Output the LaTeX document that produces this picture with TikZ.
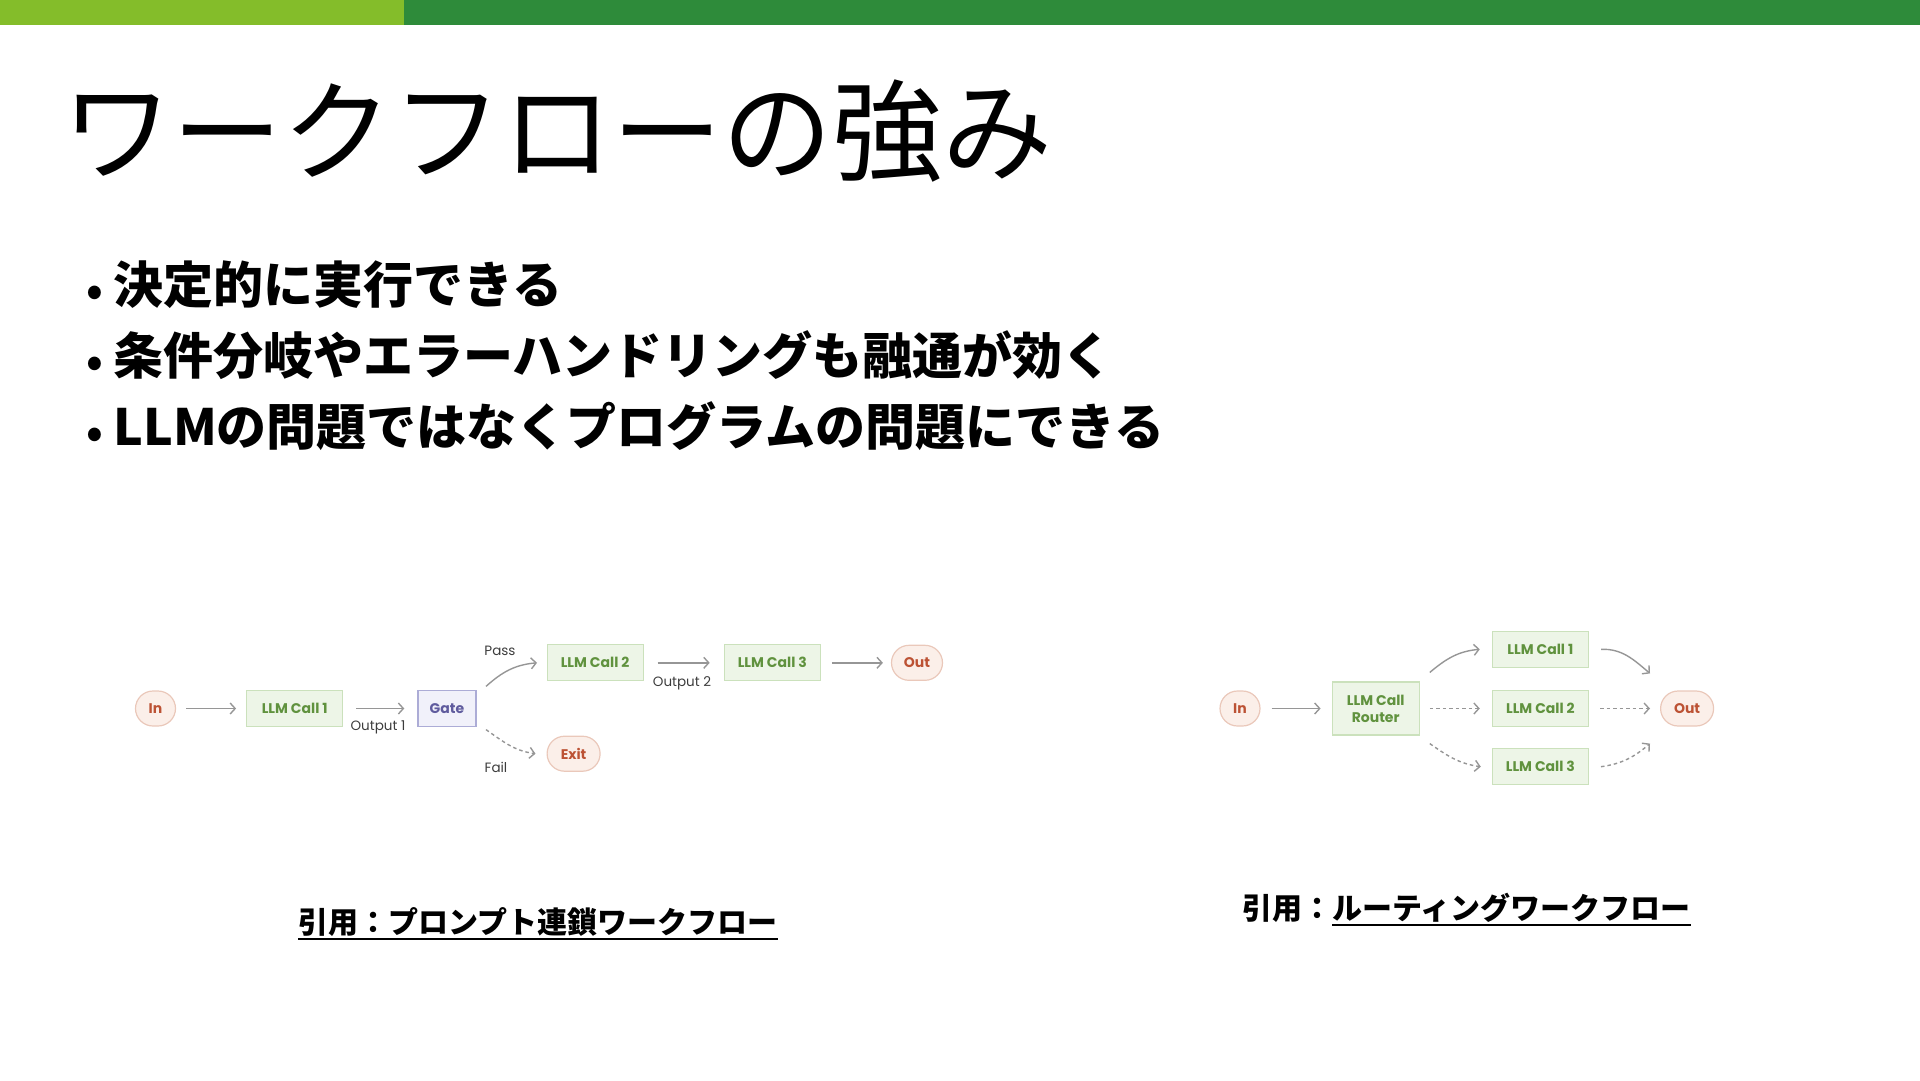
\documentclass[tikz,border=0pt]{standalone}
\usepackage{fontspec}
\setmainfont{Poppins}
\newfontfamily\jpfont{Noto Sans CJK JP}
\usepackage{tikz}
\usetikzlibrary{arrows.meta, positioning, calc}
\definecolor{barlime}{RGB}{132,189,42}
\definecolor{bargreen}{RGB}{46,139,58}
\definecolor{callgreen}{RGB}{96,146,62}
\definecolor{callfill}{RGB}{237,245,231}
\definecolor{callline}{RGB}{203,225,188}
\definecolor{termred}{RGB}{188,82,52}
\definecolor{termfill}{RGB}{251,239,233}
\definecolor{termline}{RGB}{234,200,186}
\definecolor{gateblue}{RGB}{96,92,158}
\definecolor{gatefill}{RGB}{241,241,250}
\definecolor{gateline}{RGB}{172,172,214}
\definecolor{flowgray}{RGB}{150,150,150}
\definecolor{labelink}{RGB}{60,60,60}
\tikzset{
  callbox/.style={
    draw=callline,
    line width=1.2pt,
    fill=callfill,
    align=center,
    minimum height=36pt,
    minimum width=96pt,
    inner sep=0pt,
    font=\fontsize{14}{17}\selectfont\bfseries,
    text=callgreen
  },
  termbox/.style={
    draw=termline,
    line width=1.2pt,
    fill=termfill,
    rounded corners=17.5pt,
    minimum height=35pt,
    minimum width=40pt,
    inner sep=0pt,
    font=\fontsize{14}{17}\selectfont\bfseries,
    text=termred
  },
  gatebox/.style={
    draw=gateline,
    line width=1.2pt,
    fill=gatefill,
    minimum height=36pt,
    minimum width=58pt,
    inner sep=0pt,
    font=\fontsize{14}{17}\selectfont\bfseries,
    text=gateblue
  },
  flow/.style={-{Straight Barb[length=5pt,width=11pt]}, line width=1.4pt, draw=flowgray,
    shorten <=10pt, shorten >=10pt},
  dashflow/.style={flow, dash pattern=on 3.5pt off 3pt},
  edgelabel/.style={font=\fontsize{13.5}{16}\selectfont, text=labelink, inner sep=0pt},
  titletext/.style={font=\jpfont\fontsize{110}{120}\selectfont, inner sep=0pt, anchor=base west},
  itemtext/.style={font=\jpfont\bfseries\fontsize{50}{60}\selectfont, inner sep=0pt, anchor=base west},
  citetext/.style={font=\jpfont\bfseries\fontsize{30}{36}\selectfont, inner sep=0pt},
  uline/.style={line width=2.2pt, draw=black}
}
\newcommand{\itemdot}{\makebox[27pt][l]{\raisebox{-2pt}{\fontsize{42}{42}\selectfont •}}}

\begin{document}
\begin{tikzpicture}[x=1pt, y=-1pt]
  \useasboundingbox (0,0) rectangle (1920,1080);
  \fill[barlime] (0,0) rectangle (404,25);
  \fill[bargreen] (404,0) rectangle (1920,25);

  \node[titletext] (title) at (62,172) {ワークフローの強み};
  \node[itemtext] (item1) at (86,303.5) {\itemdot 決定的に実行できる};
  \node[itemtext] (item2) at (86,374.5) {\itemdot 条件分岐やエラーハンドリングも融通が効く};
  \node[itemtext] (item3) at (86,445.5) {\itemdot LLMの問題ではなくプログラムの問題にできる};

  % prompt chaining
  \node[termbox] (inA) at (155.5,708.5) {In};
  \node[callbox, right=70pt of inA] (callA1) {LLM Call 1};
  \node[gatebox, right=74pt of callA1] (gate) {Gate};
  \node[callbox, above right=8.5pt and 70pt of gate] (callA2) {LLM Call 2};
  \node[callbox, right=80pt of callA2] (callA3) {LLM Call 3};
  \node[termbox, right=70pt of callA3, minimum width=51pt] (outA) {Out};
  \node[termbox, below right=8.5pt and 70pt of gate, minimum width=53pt] (exitA) {Exit};

  \draw[flow] (inA) -- (callA1);
  \draw[flow, shorten <=13pt, shorten >=13pt] (callA1) -- (gate);
  \draw[flow, shorten <=14pt, shorten >=14pt] (callA2) -- (callA3);
  \draw[flow, shorten <=11pt, shorten >=8pt] (callA3) -- (outA);
  \draw[flow, shorten <=0pt, shorten >=0pt] ([xshift=9.5pt,yshift=3.5pt]gate.north east)
    to[out=42, in=185] ([xshift=-9.5pt]callA2.west);
  \draw[dashflow, shorten <=0pt, shorten >=0pt] ([xshift=9.5pt,yshift=-2.5pt]gate.south east)
    to[out=-35, in=172] ([xshift=-11pt]exitA.west);

  \node[edgelabel] (lblout1) at (378,727) {Output 1};
  \node[edgelabel] (lblout2) at (682,683) {Output 2};
  \node[edgelabel] (lblpass) at (500,651) {Pass};
  \node[edgelabel] (lblfail) at (496,767) {Fail};

  % routing
  \node[termbox] (inB) at (1240,708.5) {In};
  \node[callbox, right=71pt of inB, minimum width=87pt, minimum height=53pt] (router) {LLM Call\\Router};
  \node[callbox, right=72pt of router] (callB2) {LLM Call 2};
  \node[callbox, above=22pt of callB2] (callB1) {LLM Call 1};
  \node[callbox, below=21pt of callB2] (callB3) {LLM Call 3};
  \node[termbox, right=71pt of callB2, minimum width=53pt] (outB) {Out};

  \draw[flow, shorten <=11pt, shorten >=11pt] (inB) -- (router);
  \draw[dashflow, shorten <=10pt, shorten >=12pt] (router) -- (callB2);
  \draw[dashflow, shorten <=11pt, shorten >=10pt] (callB2) -- (outB);
  \draw[flow, shorten <=0pt, shorten >=0pt] ([xshift=10pt,yshift=9pt]router.north east)
    to[out=40, in=185] ([xshift=-12pt]callB1.west);
  \draw[dashflow, shorten <=0pt, shorten >=0pt] ([xshift=10pt,yshift=-8pt]router.south east)
    to[out=-35, in=172] ([xshift=-11pt]callB3.west);
  \draw[flow, shorten <=0pt, shorten >=0pt] ([xshift=12pt]callB1.east)
    to[out=2, in=140] ([xshift=-10pt,yshift=17pt]outB.north west);
  \draw[dashflow, shorten <=0pt, shorten >=0pt] ([xshift=12pt]callB3.east)
    to[out=8, in=-140] ([xshift=-10pt,yshift=-17pt]outB.south west);

  \node[citetext, anchor=base] (citeA) at (538,933) {引用：プロンプト連鎖ワークフロー};
  \draw[uline] ([yshift=-6pt]citeA.base west) -- ([yshift=-6pt]citeA.base east);
  \node[citetext, anchor=base west] (citeB) at (1242,919) {引用：};
  \node[citetext, anchor=base west] (citeBlink) at (citeB.base east) {ルーティングワークフロー};
  \draw[uline] ([yshift=-6pt]citeBlink.base west) -- ([yshift=-6pt]citeBlink.base east);
\end{tikzpicture}
\end{document}
